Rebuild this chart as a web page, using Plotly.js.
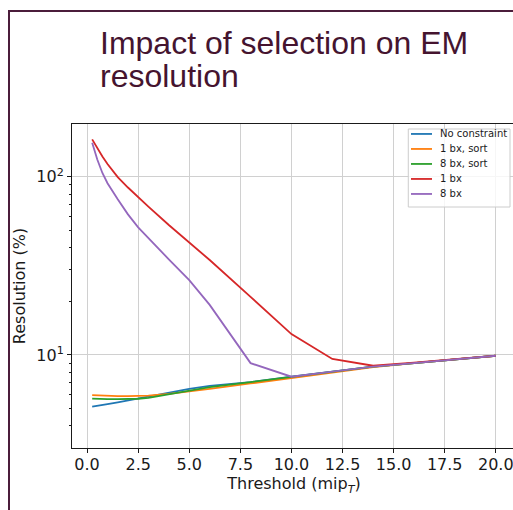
<!DOCTYPE html>
<html>
<head>
<meta charset="utf-8">
<script src="https://cdn.plot.ly/plotly-3.0.1.min.js"></script>
<style>
  html, body { margin: 0; padding: 0; background: #ffffff; overflow: hidden; width: 513px; height: 510px; }
  #chart { position: absolute; left: 0; top: 0; width: 530px; height: 510px; }
  #frame { position: absolute; left: 8px; top: 10px; width: 700px; height: 700px;
           border-top: 2px solid #4b1d3b; border-left: 2px solid #4b1d3b; pointer-events: none; }
</style>
</head>
<body>
<div id="chart"></div>
<div id="frame"></div>
<script>
// Threshold values (mip_T) and energy resolution (%) per selection strategy
const thresholds = [0.25, 0.5, 0.75, 1, 1.5, 2, 2.5, 3, 4, 5, 6, 8, 10, 12, 14, 16, 18, 20];
const noConstraint = [5.13, 5.17, 5.22, 5.30, 5.42, 5.56, 5.72, 5.86, 6.15, 6.45, 6.70, 7.05, 7.55, 8.06, 8.60, 9.00, 9.45, 9.90];
const oneBxSort    = [5.95, 5.93, 5.91, 5.90, 5.88, 5.88, 5.89, 5.92, 6.05, 6.22, 6.45, 6.92, 7.42, 8.00, 8.55, 9.00, 9.45, 9.90];
const eightBxSort  = [5.69, 5.67, 5.66, 5.65, 5.65, 5.66, 5.68, 5.75, 6.02, 6.34, 6.60, 7.05, 7.55, 8.06, 8.60, 9.00, 9.45, 9.90];
const oneBx        = [162, 144, 130, 118, 99.5, 87, 76.6, 68, 53.6, 42.8, 34.1, 21.2, 13.1, 9.5, 8.7, 9.05, 9.45, 9.90];
const eightBx      = [155, 125, 105, 92, 74.7, 61.5, 52, 45.1, 34.4, 26.3, 19.1, 9.0, 7.55, 8.06, 8.60, 9.00, 9.45, 9.90];

const seriesNames = ["No constraint", "1 bx, sort", "8 bx, sort", "1 bx", "8 bx"];
const seriesValues = [noConstraint, oneBxSort, eightBxSort, oneBx, eightBx];
const seriesColors = ["#1f77b4", "#ff7f0e", "#2ca02c", "#d62728", "#9467bd"];

const yTickVals = [10, 100];
const yTickText = ["10<sup>1</sup>", "10<sup>2</sup>"];
const yMinorVals = [4, 5, 6, 7, 8, 9, 20, 30, 40, 50, 60, 70, 80, 90];
const xTickVals = [0, 2.5, 5, 7.5, 10, 12.5, 15, 17.5, 20];
const xTickText = ["0.0", "2.5", "5.0", "7.5", "10.0", "12.5", "15.0", "17.5", "20.0"];

const traces = seriesNames.map((name, i) => ({
  x: thresholds,
  y: seriesValues[i],
  name: name,
  type: "scatter",
  mode: "lines",
  line: { color: seriesColors[i], width: 1.8 },
  hoverinfo: "skip",
  showlegend: false
}));

// Legend box in the upper-right corner of the axes (paper coordinates)
const legendBox = { x0: 0.7574, x1: 0.9865, y0: 0.7438, y1: 0.9846 };
const legendRowTop = 0.9693;   // first entry centre
const legendRowStep = 0.0463;  // spacing between entries
const legendFont = { family: "DejaVu Sans, sans-serif", size: 10, color: "#1a1a1a" };

const shapes = [{
  type: "rect", xref: "paper", yref: "paper",
  x0: legendBox.x0, x1: legendBox.x1, y0: legendBox.y0, y1: legendBox.y1,
  line: { color: "#cccccc", width: 1 },
  fillcolor: "rgba(255,255,255,0.8)",
  layer: "above"
}];
const legendLabels = [];
seriesNames.forEach((name, i) => {
  const yc = legendRowTop - i * legendRowStep;
  shapes.push({
    type: "line", xref: "paper", yref: "paper",
    x0: 0.7635, x1: 0.8108, y0: yc, y1: yc,
    line: { color: seriesColors[i], width: 1.8 },
    layer: "above"
  });
  legendLabels.push({
    text: name, xref: "paper", yref: "paper",
    x: 0.8244, y: yc, xanchor: "left", yanchor: "middle",
    showarrow: false, font: legendFont
  });
});

const tickFont = { family: "DejaVu Sans, sans-serif", size: 16, color: "#1a1a1a" };
const titleColor = "#45142f";

const layout = {
  width: 530,
  height: 510,
  margin: { l: 72, r: 14, t: 124, b: 62 },
  paper_bgcolor: "#ffffff",
  plot_bgcolor: "#ffffff",
  showlegend: false,
  xaxis: {
    range: [-0.7375, 20.9875],
    tickvals: xTickVals,
    ticktext: xTickText,
    ticks: "outside", ticklen: 4, tickwidth: 1, tickcolor: "#1a1a1a",
    ticklabelstandoff: -2,
    showline: true, linecolor: "#1a1a1a", linewidth: 1, mirror: true,
    showgrid: true, gridcolor: "#d0d0d0", gridwidth: 1,
    zeroline: false,
    tickfont: tickFont,
    title: { text: "Threshold (mip<sub><i>T</i></sub>)", font: tickFont, standoff: 0 }
  },
  yaxis: {
    type: "log",
    range: [0.478, 2.296],
    tickvals: yTickVals,
    ticktext: yTickText,
    ticks: "outside", ticklen: 4, tickwidth: 1, tickcolor: "#1a1a1a",
    minor: { tickvals: yMinorVals, ticks: "outside", ticklen: 2, tickwidth: 1, tickcolor: "#1a1a1a", showgrid: false },
    showline: true, linecolor: "#1a1a1a", linewidth: 1, mirror: true,
    showgrid: true, gridcolor: "#d0d0d0", gridwidth: 1,
    zeroline: false,
    tickfont: tickFont,
    title: { text: "Resolution (%)", font: tickFont, standoff: 6 }
  },
  shapes: shapes,
  annotations: [
    {
      text: "Impact of selection on EM",
      xref: "paper", yref: "paper", x: 0.059, y: 1.2502,
      xanchor: "left", yanchor: "middle", showarrow: false,
      font: { family: "Liberation Sans, Arial, sans-serif", size: 32, color: titleColor }
    },
    {
      text: "resolution",
      xref: "paper", yref: "paper", x: 0.059, y: 1.1485,
      xanchor: "left", yanchor: "middle", showarrow: false,
      font: { family: "Liberation Sans, Arial, sans-serif", size: 32, color: titleColor }
    }
  ].concat(legendLabels)
};

Plotly.newPlot("chart", traces, layout, { staticPlot: true, displayModeBar: false });
</script>
</body>
</html>
